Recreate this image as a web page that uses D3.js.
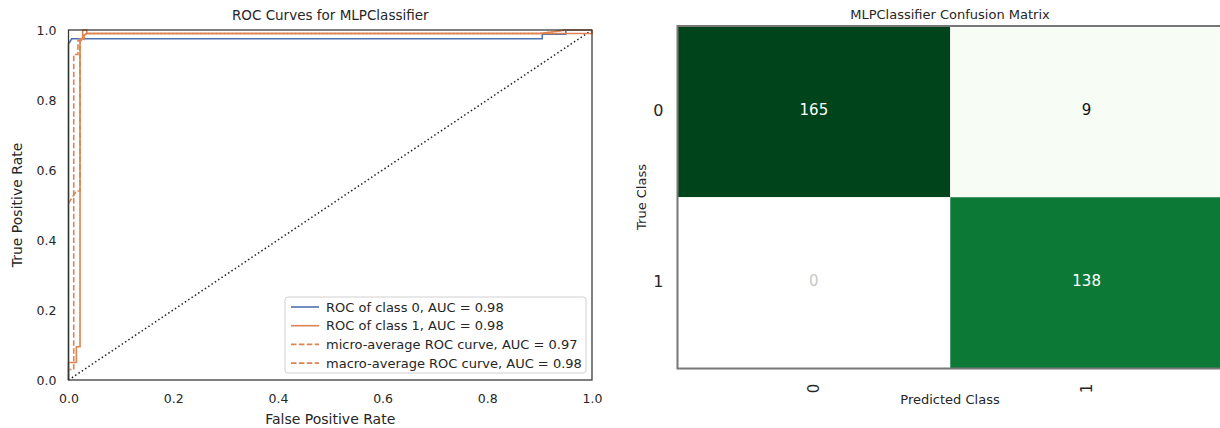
<!DOCTYPE html>
<html>
  <head>
    <meta charset="utf-8" />
    <title>MLPClassifier ROC and Confusion Matrix</title>
    <script src="https://d3js.org/d3.v7.min.js"></script>
    <style>
      body { margin: 0; background: #fff; }
      svg { font-family: "DejaVu Sans", sans-serif; }
    </style>
  </head>
  <body>
    <div id="chart"></div>

    <script>
      // ROC curves as [fpr, tpr] corner points
      const rocClass0 = [[0, 0], [0, 0.96], [0.006, 0.975], [0.905, 0.975], [0.905, 0.988], [0.95, 0.988], [0.95, 1], [1, 1]];
      const rocClass1 = [[0, 0], [0, 0.05], [0.015, 0.05], [0.015, 0.095], [0.022, 0.095], [0.022, 0.975], [0.027, 0.975], [0.027, 1], [0.035, 1], [0.035, 0.99], [1, 0.99], [1, 1]];
      const rocMicro = [[0, 0], [0, 0.03], [0.01, 0.03], [0.01, 0.93], [0.018, 0.93], [0.018, 0.97], [0.03, 0.97], [0.03, 0.99], [0.9, 0.99], [0.95, 1], [1, 1]];
      const rocMacro = [[0, 0.505], [0.015, 0.54], [0.022, 0.54], [0.022, 0.975], [0.03, 0.985], [0.035, 0.99], [0.9, 0.99], [0.95, 1], [1, 1]];
      const legendLabels = [
        "ROC of class 0, AUC = 0.98",
        "ROC of class 1, AUC = 0.98",
        "micro-average ROC curve, AUC = 0.97",
        "macro-average ROC curve, AUC = 0.98"
      ];
      const rateTicks = [0, 0.2, 0.4, 0.6, 0.8, 1.0];

      // confusion matrix
      const classes = ["0", "1"];
      const matrix = [[165, 9], [0, 138]];
      const greens = ["#f7fcf5", "#e5f5e0", "#c7e9c0", "#a1d99b", "#74c476", "#41ab5d", "#238b45", "#006d2c", "#00441b"];

      const W = 1220, H = 428;
      const svg = d3.select("#chart").append("svg").attr("width", W).attr("height", H);
      const ink = "#262626";

      // ---------- ROC panel ----------
      const rx = d3.scaleLinear().domain([0, 1]).range([68.5, 592]);
      const ry = d3.scaleLinear().domain([0, 1]).range([380, 30]);

      const roc = svg.append("g");

      roc.append("g")
        .attr("transform", `translate(0,${ry(0)})`)
        .call(d3.axisBottom(rx).tickValues(rateTicks).tickFormat(d3.format(".1f")).tickSize(0).tickPadding(14))
        .call(g => g.select(".domain").remove())
        .selectAll("text").attr("font-size", 12.5).attr("fill", ink).attr("font-family", "DejaVu Sans");

      roc.append("g")
        .attr("transform", `translate(${rx(0)},0)`)
        .call(d3.axisLeft(ry).tickValues(rateTicks).tickFormat(d3.format(".1f")).tickSize(0).tickPadding(12))
        .call(g => g.select(".domain").remove())
        .selectAll("text").attr("font-size", 12.5).attr("fill", ink).attr("font-family", "DejaVu Sans");

      const line = d3.line().x(d => rx(d[0])).y(d => ry(d[1]));

      const curves = [
        { data: rocClass0, color: "#4c72b0", dash: null },
        { data: rocClass1, color: "#dd8452", dash: null },
        { data: rocMicro, color: "#dd8452", dash: "5.5,2.4" },
        { data: rocMacro, color: "#dd8452", dash: "5.5,2.4" }
      ];

      // diagonal
      roc.append("path")
        .attr("d", line([[0, 0], [1, 1]]))
        .attr("fill", "none").attr("stroke", "#222").attr("stroke-width", 1.5)
        .attr("stroke-dasharray", "1.5,2.5");

      roc.selectAll("path.curve").data(curves).join("path")
        .attr("class", "curve")
        .attr("d", d => line(d.data))
        .attr("fill", "none")
        .attr("stroke", d => d.color)
        .attr("stroke-width", 1.6)
        .attr("stroke-dasharray", d => d.dash);

      roc.append("rect")
        .attr("x", rx(0)).attr("y", ry(1))
        .attr("width", rx(1) - rx(0)).attr("height", ry(0) - ry(1))
        .attr("fill", "none").attr("stroke", "#333").attr("stroke-width", 1.25);

      roc.append("text")
        .attr("x", (rx(0) + rx(1)) / 2).attr("y", 20)
        .attr("text-anchor", "middle").attr("font-size", 13.5).attr("fill", ink)
        .text("ROC Curves for MLPClassifier");

      roc.append("text")
        .attr("x", (rx(0) + rx(1)) / 2).attr("y", 424)
        .attr("text-anchor", "middle").attr("font-size", 14).attr("fill", ink)
        .text("False Positive Rate");

      roc.append("text")
        .attr("transform", `translate(22,${(ry(0) + ry(1)) / 2}) rotate(-90)`)
        .attr("text-anchor", "middle").attr("font-size", 14).attr("fill", ink)
        .text("True Positive Rate");

      // legend
      const lg = roc.append("g").attr("transform", "translate(285,297)");
      lg.append("rect")
        .attr("width", 301).attr("height", 76).attr("rx", 3)
        .attr("fill", "#fff").attr("fill-opacity", 0.8)
        .attr("stroke", "#d0d0d0").attr("stroke-width", 1);
      const item = lg.selectAll("g.item").data(curves).join("g")
        .attr("class", "item")
        .attr("transform", (d, i) => `translate(0,${10 + i * 18.7})`);
      item.append("line")
        .attr("x1", 6).attr("x2", 34)
        .attr("stroke", d => d.color).attr("stroke-width", 1.6)
        .attr("stroke-dasharray", d => d.dash);
      item.append("text")
        .attr("x", 41).attr("dy", "0.35em")
        .attr("font-size", 13).attr("fill", ink)
        .text((d, i) => legendLabels[i]);

      // ---------- Confusion matrix panel ----------
      const cx = d3.scaleBand().domain(classes).range([677.5, 1223]);
      const cy = d3.scaleBand().domain(classes).range([26, 368.5]);
      const values = matrix.flat();
      const maxVal = d3.max(values);
      const minVal = d3.min(values.filter(v => v > 0));
      const color = d3.scaleLinear()
        .domain(greens.map((c, i) => minVal + i * (maxVal - minVal) / (greens.length - 1)))
        .range(greens)
        .interpolate(d3.interpolateRgb);

      const cells = [];
      matrix.forEach((row, i) => row.forEach((v, j) => cells.push({ r: classes[i], c: classes[j], v })));

      const cm = svg.append("g");
      cm.selectAll("rect.cell").data(cells).join("rect")
        .attr("class", "cell")
        .attr("x", d => cx(d.c)).attr("y", d => cy(d.r))
        .attr("width", cx.bandwidth()).attr("height", cy.bandwidth())
        .attr("fill", d => d.v === 0 ? "#ffffff" : color(d.v));

      cm.selectAll("text.val").data(cells).join("text")
        .attr("class", "val")
        .attr("x", d => cx(d.c) + cx.bandwidth() / 2)
        .attr("y", d => cy(d.r) + cy.bandwidth() / 2 - 2)
        .attr("dy", "0.35em")
        .attr("text-anchor", "middle").attr("font-size", 15)
        .attr("fill", d => d.v === 0 ? "#c8c8c8" : (d.v / maxVal > 0.5 ? "#ffffff" : "#111"))
        .text(d => d.v);

      cm.append("rect")
        .attr("x", cx.range()[0]).attr("y", cy.range()[0])
        .attr("width", cx.range()[1] - cx.range()[0]).attr("height", cy.range()[1] - cy.range()[0])
        .attr("fill", "none").attr("stroke", "#777").attr("stroke-width", 2);

      cm.append("g")
        .attr("transform", `translate(${cx.range()[0]},0)`)
        .call(d3.axisLeft(cy).tickSize(0).tickPadding(14))
        .call(g => g.select(".domain").remove())
        .selectAll("text").attr("font-size", 16).attr("fill", ink).attr("font-family", "DejaVu Sans")
        .attr("dy", "0.25em");

      cm.append("g")
        .attr("transform", `translate(0,${cy.range()[1]})`)
        .call(d3.axisBottom(cx).tickSize(0))
        .call(g => g.select(".domain").remove())
        .selectAll("text")
        .attr("font-size", 15).attr("fill", ink).attr("font-family", "DejaVu Sans")
        .attr("text-anchor", "middle").attr("dy", null).attr("y", 0)
        .attr("transform", "translate(0,20) rotate(-90)")
        .attr("dominant-baseline", "central");

      cm.append("text")
        .attr("x", 950).attr("y", 19)
        .attr("text-anchor", "middle").attr("font-size", 13).attr("fill", ink)
        .text("MLPClassifier Confusion Matrix");

      cm.append("text")
        .attr("x", 950).attr("y", 404)
        .attr("text-anchor", "middle").attr("font-size", 13).attr("fill", ink)
        .text("Predicted Class");

      cm.append("text")
        .attr("transform", `translate(646,197) rotate(-90)`)
        .attr("text-anchor", "middle").attr("font-size", 13).attr("fill", ink)
        .text("True Class");
    </script>
  </body>
</html>
